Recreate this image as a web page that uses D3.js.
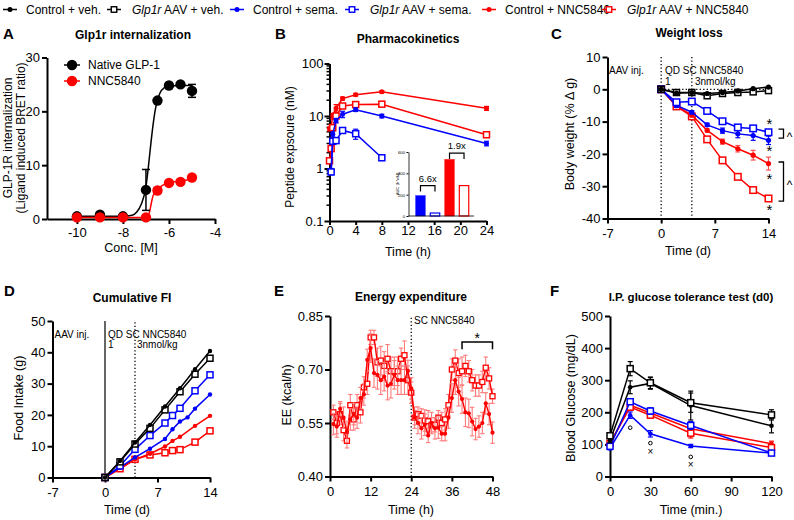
<!DOCTYPE html>
<html><head><meta charset="utf-8">
<script src="https://cdn.jsdelivr.net/npm/d3@7"></script>
<style>body{margin:0;background:#fff}svg{display:block}</style>
</head><body><svg id="c" width="794" height="520"></svg>
<script>
// ---------------- DATA ----------------
const seriesKeys = ["ctrlVeh","aavVeh","ctrlSema","aavSema","ctrlNNC","aavNNC"];
const legendPre = ["Control + veh.","Glp1r","Control + sema.","Glp1r","Control + NNC5840","Glp1r"];
const legendPost = [""," AAV + veh.",""," AAV + sema.",""," AAV + NNC5840"];

// A: internalization
const aConc = [-10,-9,-8,-7,-6.5,-6,-5.5,-5];
const aNative = [0.5,0.8,0.5,5.4,22,24.8,25,23.8];
const aNativeErr = [0.2,0.2,0.2,3.8,0.3,0.3,0.3,1.2];
const aNNC = [0.3,0.3,0.3,0.3,5.3,6.7,6.9,7.7];
const aNNCErr = [0.1,0.1,0.1,0.1,0.5,0.4,0.4,0.5];
const aNativeFitX = [-10,-8,-7.6,-7.4,-7.2,-7.0,-6.9,-6.8,-6.7,-6.6,-6.5,-6.4,-6.2,-6.0,-5.5,-5];
const aNativeFitY = [0.5,0.5,0.7,1.3,2.8,6.0,9.5,13.5,17.2,20.2,22,23.3,24.4,24.7,24.8,24.8];
const aNNCFitX = [-10,-7.2,-7.0,-6.9,-6.85,-6.8,-6.75,-6.7,-6.6,-6.5,-6.3,-6.0,-5.5,-5];
const aNNCFitY = [0.3,0.3,0.35,0.6,1.2,2.2,3.3,4.2,5.0,5.5,6.2,6.7,7.1,7.4];
const aLegend = ["Native  GLP-1","NNC5840"];

// B: pharmacokinetics
const bTime = [0,0.25,0.5,1,2,4,8,24];
const bCtrlSema = [null,0.9,4.5,8.2,10.8,13.2,10,3.0];
const bCtrlSemaErr = [0,0.1,0.5,0.8,1.5,1.0,0.8,0.3];
const bAavSema = [null,0.86,3.3,3.4,5.3,4.6,1.6,null];
const bAavSemaErr = [0,0.1,0.3,0.4,0.5,1.0,0.15,0];
const bCtrlNNC = [5.7,6.2,10,14,21.5,25.5,29,14];
const bCtrlNNCErr = [0.5,0.6,1.2,2.5,1.5,1.5,1.5,1.2];
const bAavNNC = [1.4,2.4,6,10,15.5,16.5,16.8,4.4];
const bAavNNCErr = [0.1,0.3,0.8,2.5,1.5,1.0,1.2,0.5];
const bAucGroups = ["ctrlSema","aavSema","ctrlNNC","aavNNC"];
const bAuc = [190,28,530,285];
const bAucTicks = [0,200,400,600];
const bFold = ["6.6x","1.9x"];

// C: weight loss
const cDays = [0,2,4,6,8,10,12,14];
const cCtrlVeh = [0,-1.2,-1,-1.3,-1,-0.5,0.2,0.7];
const cAavVeh = [0,-1,-1,-2,-1.3,-1,-0.8,-0.4];
const cCtrlSema = [0,-5,-7.1,-11,-12.8,-13.8,-14.3,-15.8];
const cAavSema = [0,-4,-3.8,-6.7,-9.9,-11.8,-12.1,-13.3];
const cCtrlNNC = [0,-5.1,-8,-12.7,-16.2,-18.4,-20.4,-23];
const cAavNNC = [0,-5.3,-8.4,-15.5,-22,-27.1,-31.2,-33.8];
const cCtrlSemaErr = [0,0.6,0.5,0.5,0.8,1.2,1.5,1.3];
const cCtrlNNCErr = [0,0.4,0.5,0.5,0.8,1.0,1.5,2.0];
const cSmallErr = [0,0.5,0.5,0.6,0.6,0.6,0.6,0.7];
const cStars = [-10.1,-18.5,-27.1,-36.8];
const cBrackets = [[-12.3,-15.1],[-22.5,-34.6]];

// D: cumulative food intake
const dDaysVeh = [0,2,4,6,8,10,12,14];
const dCtrlVeh = [0,5.3,11.2,16.8,22.7,28.5,34.6,40.4];
const dAavVeh = [0,5,10.7,15.7,21.6,27.4,33,38.1];
const dDaysSema = [0,2,4,6,8,9,10,11,12,14];
const dCtrlSema = [0,3.2,6.4,9.2,12.3,15.4,17.9,19.2,22.0,26.5];
const dDaysAav = [0,2,4,6,8,9,10,12,14];
const dAavSema = [0,3.7,9,13.4,17.4,19.8,22.1,27.7,32.8];
const dCtrlNNC = [0,3,5.8,7.6,9.9,11.7,13,16.5,19.7];
const dAavNNC = [0,2.8,5.8,7.2,7.9,8.6,8.9,11.3,14.9];

// E: energy expenditure
const eHours = [1,2,3,4,5,6,7,8,9,10,11,12,13,14,15,16,17,18,19,20,21,22,23,24,25,26,27,28,29,30,31,32,33,34,35,36,37,38,39,40,41,42,43,44,45,46,47,48];
const eAavNNC = [0.58,0.55,0.575,0.53,0.50,0.60,0.56,0.60,0.58,0.65,0.66,0.79,0.79,0.72,0.725,0.71,0.73,0.695,0.695,0.695,0.73,0.74,0.67,0.635,0.565,0.575,0.57,0.557,0.555,0.545,0.545,0.565,0.55,0.56,0.60,0.70,0.725,0.69,0.695,0.71,0.695,0.67,0.655,0.655,0.665,0.705,0.675,0.625];
const eAavNNCErr = [0.02,0.03,0.03,0.03,0.02,0.03,0.03,0.03,0.03,0.03,0.03,0.02,0.02,0.04,0.04,0.04,0.04,0.04,0.04,0.04,0.03,0.04,0.04,0.03,0.02,0.02,0.02,0.03,0.03,0.02,0.02,0.02,0.03,0.03,0.03,0.03,0.03,0.04,0.04,0.03,0.03,0.03,0.03,0.03,0.03,0.03,0.03,0.02];
const eCtrlNNC = [0.547,0.54,0.59,0.565,0.525,0.56,0.575,0.565,0.62,0.63,0.727,0.76,0.69,0.685,0.67,0.68,0.655,0.66,0.685,0.67,0.67,0.67,0.696,0.647,0.565,0.55,0.535,0.545,0.515,0.55,0.535,0.537,0.52,0.52,0.565,0.62,0.67,0.638,0.617,0.58,0.577,0.554,0.533,0.54,0.55,0.605,0.575,0.523];
const eCtrlNNCErr = [0.03,0.03,0.02,0.03,0.03,0.03,0.03,0.03,0.03,0.03,0.03,0.04,0.04,0.04,0.04,0.04,0.04,0.04,0.04,0.04,0.04,0.04,0.03,0.03,0.03,0.03,0.03,0.03,0.02,0.03,0.03,0.03,0.02,0.02,0.03,0.04,0.04,0.04,0.04,0.04,0.04,0.04,0.03,0.03,0.03,0.03,0.03,0.03];

// F: IPGTT
const fTime = [0,15,30,60,120];
const fCtrlVeh = [113,278,290,221,158];
const fCtrlVehErr = [8,20,18,45,22];
const fAavVeh = [127,336,292,230,192];
const fAavVehErr = [8,22,18,30,16];
const fCtrlSema = [88,191,133,95,73];
const fCtrlSemaErr = [5,10,10,5,5];
const fAavSema = [94,233,204,159,73];
const fAavSemaErr = [5,8,10,12,5];
const fCtrlNNC = [102,222,198,149,102];
const fCtrlNNCErr = [5,10,10,10,8];
const fAavNNC = [103,216,191,135,90];
const fAavNNCErr = [5,10,10,15,8];
const fMarksO = [[15,152],[30,104],[60,61]];
const fMarksX = [[30,78],[60,36]];

// ---------------- STYLE / HELPERS ----------------
const FONT = '"Liberation Sans", Arial, Helvetica, sans-serif';
const RED = "#ff0000", BLUE = "#0000ff", BLK = "#000000";
const TICK_FS = 13, LABEL_FS = 12.5, NOTE_FS = 10;
const style = {
  ctrlVeh:{c:BLK,open:false}, aavVeh:{c:BLK,open:true},
  ctrlSema:{c:BLUE,open:false}, aavSema:{c:BLUE,open:true},
  ctrlNNC:{c:RED,open:false}, aavNNC:{c:RED,open:true}
};
const svg = d3.select("#c").attr("font-family", FONT);

function txt(g, x, y, s, o={}) {
  const t = g.append("text").attr("x", x).attr("y", y).text(s)
    .attr("font-size", o.size || 12).attr("fill", o.fill || "#000")
    .attr("text-anchor", o.anchor || "start");
  if (o.bold) t.attr("font-weight", "bold");
  if (o.rot) t.attr("transform", `rotate(-90,${x},${y})`);
  return t;
}

function axes(x, y, o) {
  const fmt = o.fmt || (d => String(d));
  const xa = d3.axisBottom(x).tickValues(o.xt).tickFormat(o.xf || fmt)
    .tickSize(o.xts == null ? 5 : o.xts).tickSizeOuter(0).tickPadding(o.xpad == null ? 5 : o.xpad);
  const gx = svg.append("g").attr("transform", `translate(0,${y.range()[0]})`).call(xa);
  const ya = d3.axisLeft(y).tickValues(o.yt).tickFormat(o.yf || fmt)
    .tickSize(5).tickSizeOuter(0).tickPadding(o.ypad == null ? 2 : o.ypad);
  const gy = svg.append("g").attr("transform", `translate(${x.range()[0]},0)`).call(ya);
  [gx, gy].forEach(a => {
    a.select(".domain").attr("stroke-width", 2).attr("stroke", "#000");
    a.selectAll(".tick line").attr("stroke-width", 2).attr("stroke", "#000");
    a.selectAll("text").attr("font-size", TICK_FS).attr("font-family", FONT).attr("fill", "#000");
  });
  return {gx, gy};
}

function series(x, y, xs, ys, errs, key, o={}) {
  const st = style[key];
  const pts = xs.map((t, i) => ({x: t, y: ys[i], e: errs ? errs[i] : 0})).filter(p => p.y != null);
  const g = svg.append("g");
  const eg = g.append("g").attr("stroke", o.errColor || st.c).attr("stroke-width", o.ew || 1.2);
  const cap = o.cap == null ? 2.5 : o.cap;
  pts.forEach(p => {
    if (!p.e) return;
    const cx = x(p.x), y1 = y(p.y - p.e), y2 = y(p.y + p.e);
    eg.append("line").attr("x1", cx).attr("x2", cx).attr("y1", y1).attr("y2", y2);
    eg.append("line").attr("x1", cx - cap).attr("x2", cx + cap).attr("y1", y1).attr("y2", y1);
    eg.append("line").attr("x1", cx - cap).attr("x2", cx + cap).attr("y1", y2).attr("y2", y2);
  });
  if (!o.noLine) {
    g.append("path").datum(pts)
      .attr("d", d3.line().x(p => x(p.x)).y(p => y(p.y)))
      .attr("fill", "none").attr("stroke", st.c).attr("stroke-width", o.lw || 1.5);
  }
  pts.forEach(p => marker(g, x(p.x), y(p.y), st, o));
}

function marker(g, cx, cy, st, o) {
  if (st.open) {
    const s = o.sq || 6;
    g.append("rect").attr("x", cx - s/2).attr("y", cy - s/2).attr("width", s).attr("height", s)
      .attr("fill", "#fff").attr("stroke", st.c).attr("stroke-width", o.sw || 1.5);
  } else {
    g.append("circle").attr("cx", cx).attr("cy", cy).attr("r", o.r || 2.5).attr("fill", st.c);
  }
}

function dotted(x1, y1, x2, y2, color) {
  svg.append("line").attr("x1", x1).attr("y1", y1).attr("x2", x2).attr("y2", y2)
    .attr("stroke", color || "#000").attr("stroke-width", 1.3).attr("stroke-dasharray", "1.3,2.2");
}

// ---------------- TOP LEGEND ----------------
const legX = [10, 114, 237, 352, 489, 609];
seriesKeys.forEach((k, i) => {
  const g = svg.append("g");
  const cx = legX[i];
  g.append("line").attr("x1", cx - 7).attr("x2", cx + 7).attr("y1", 9.5).attr("y2", 9.5)
    .attr("stroke", style[k].c).attr("stroke-width", 1.5);
  marker(g, cx, 9.5, style[k], {r: 2.5, sq: 5.5, sw: 1.4});
  const t = g.append("text").attr("x", cx + (i % 2 ? 18 : 16)).attr("y", 14).attr("font-size", 12);
  if (i % 2) {
    t.append("tspan").attr("font-style", "italic").text(legendPre[i]);
    t.append("tspan").text(legendPost[i]);
  } else t.text(legendPre[i]);
});

// ---------------- PANEL A ----------------
{
  const x = d3.scaleLinear().domain([-11.3, -4]).range([47, 215]);
  const y = d3.scaleLinear().domain([0, 30]).range([219, 57.5]);
  axes(x, y, {xt: [-10, -8, -6, -4], yt: [0, 10, 20, 30], xpad: 4});
  const line = d3.line().x(d => x(d[0])).y(d => y(d[1])).curve(d3.curveMonotoneX);
  svg.append("path").datum(aNativeFitX.map((v, i) => [v, aNativeFitY[i]])).attr("d", line)
    .attr("fill", "none").attr("stroke", BLK).attr("stroke-width", 1.5);
  svg.append("path").datum(aNNCFitX.map((v, i) => [v, aNNCFitY[i]])).attr("d", line)
    .attr("fill", "none").attr("stroke", RED).attr("stroke-width", 1.5);
  series(x, y, aConc, aNative, aNativeErr, "ctrlVeh", {noLine: true, r: 5.2, cap: 4, ew: 1.5});
  series(x, y, aConc, aNNC, aNNCErr, "ctrlNNC", {noLine: true, r: 5.2, cap: 4, ew: 1.5});
  [[BLK, 65, aLegend[0]], [RED, 81, aLegend[1]]].forEach(([c, yy, s]) => {
    svg.append("line").attr("x1", 64).attr("x2", 80).attr("y1", yy).attr("y2", yy).attr("stroke", c).attr("stroke-width", 1.5);
    svg.append("circle").attr("cx", 72).attr("cy", yy).attr("r", 5.2).attr("fill", c);
    txt(svg, 88, yy + 4, s);
  });
  txt(svg, 3, 39, "A", {size: 15, bold: true});
  txt(svg, 133, 39, "Glp1r internalization", {bold: true, anchor: "middle"});
  txt(svg, 131, 252, "Conc. [M]", {anchor: "middle", size: LABEL_FS});
  txt(svg, 11.5, 138, "GLP-1R internalization", {anchor: "middle", rot: true});
  txt(svg, 24.5, 138, "(Ligand induced BRET ratio)", {anchor: "middle", rot: true});
}

// ---------------- PANEL B ----------------
{
  const x = d3.scaleLinear().domain([0, 24]).range([329.5, 486.5]);
  const y = d3.scaleLog().domain([0.1, 100]).range([221, 63.5]);
  axes(x, y, {xt: [0, 4, 8, 12, 16, 20, 24], yt: [0.1, 1, 10, 100], yf: d => String(d), xts: 4, xpad: 1, ypad: 1});
  const minor = [];
  [0.1, 1, 10].forEach(dec => { for (let m = 2; m <= 9; m++) minor.push(dec * m); });
  svg.append("g").selectAll("line").data(minor).join("line")
    .attr("x1", x.range()[0]).attr("x2", x.range()[0] - 3).attr("y1", d => y(d)).attr("y2", d => y(d))
    .attr("stroke", "#000").attr("stroke-width", 1.5);
  series(x, y, bTime, bCtrlNNC, bCtrlNNCErr, "ctrlNNC", {r: 2.5});
  series(x, y, bTime, bAavNNC, bAavNNCErr, "aavNNC", {sq: 6});
  series(x, y, bTime, bCtrlSema, bCtrlSemaErr, "ctrlSema", {r: 2.5});
  series(x, y, bTime, bAavSema, bAavSemaErr, "aavSema", {sq: 6});
  // inset bar chart
  const bx = d3.scaleBand().domain(bAucGroups).range([408.5, 476]).paddingInner(0.35).paddingOuter(0.5);
  const by = d3.scaleLinear().domain([0, 600]).range([216, 152]);
  const ig = svg.append("g");
  bAucGroups.forEach((k, i) => {
    const st = style[k];
    ig.append("rect").attr("x", bx(k)).attr("y", by(bAuc[i])).attr("width", bx.bandwidth())
      .attr("height", by(0) - by(bAuc[i]))
      .attr("fill", st.open ? "#fff" : st.c).attr("stroke", st.c).attr("stroke-width", st.open ? 1.2 : 0.5);
  });
  const iya = d3.axisLeft(by).tickValues(bAucTicks).tickSize(2).tickSizeOuter(0).tickPadding(1.5);
  const giy = ig.append("g").attr("transform", "translate(408.5,0)").call(iya);
  giy.select(".domain").attr("stroke-width", 0.8);
  giy.selectAll("text").attr("font-size", 4.2).attr("font-family", FONT);
  ig.append("line").attr("x1", 408.5).attr("x2", 474).attr("y1", by(0)).attr("y2", by(0)).attr("stroke", "#000").attr("stroke-width", 0.8);
  txt(ig, 398.5, 184, "AUC (h*nM)", {size: 4.2, anchor: "middle", rot: true});
  const br = (a, b, yy, label) => {
    const x1 = bx(a) + bx.bandwidth() / 2, x2 = bx(b) + bx.bandwidth() / 2;
    ig.append("path").attr("d", `M${x1},${yy + 6}V${yy}H${x2}V${yy + 6}`).attr("fill", "none").attr("stroke", "#000").attr("stroke-width", 1.2);
    txt(ig, (x1 + x2) / 2, yy - 4, label, {size: 9.5, anchor: "middle"});
  };
  br("ctrlSema", "aavSema", by(285), bFold[0]);
  br("ctrlNNC", "aavNNC", by(590), bFold[1]);
  txt(svg, 275, 39, "B", {size: 15, bold: true});
  txt(svg, 408, 43, "Pharmacokinetics", {bold: true, anchor: "middle"});
  txt(svg, 408, 256, "Time (h)", {anchor: "middle", size: LABEL_FS});
  txt(svg, 294, 147, "Peptide expsoure (nM)", {anchor: "middle", rot: true});
}

// ---------------- PANEL C ----------------
{
  const x = d3.scaleLinear().domain([-7, 14]).range([607.5, 768.5]);
  const y = d3.scaleLinear().domain([-40, 10]).range([218.5, 57]);
  axes(x, y, {xt: [-7, 0, 7, 14], yt: [-40, -30, -20, -10, 0, 10]});
  dotted(x(0), y(10), x(0), y(-40));
  dotted(x(4), y(10), x(4), y(-40));
  dotted(x(0), y(0), x(14), y(0));
  txt(svg, 609, 74, "AAV inj.", {size: NOTE_FS});
  txt(svg, 665, 74, "QD SC NNC5840", {size: NOTE_FS});
  txt(svg, 665, 84.5, "1", {size: NOTE_FS});
  txt(svg, 695, 84.5, "3nmol/kg", {size: NOTE_FS});
  series(x, y, cDays, cAavNNC, cSmallErr, "aavNNC", {sq: 6.5});
  series(x, y, cDays, cCtrlNNC, cCtrlNNCErr, "ctrlNNC", {r: 2.6, errColor: "#ff5050"});
  series(x, y, cDays, cCtrlSema, cCtrlSemaErr, "ctrlSema", {r: 2.6});
  series(x, y, cDays, cAavSema, cSmallErr, "aavSema", {sq: 6.5});
  series(x, y, cDays, cAavVeh, null, "aavVeh", {sq: 6});
  series(x, y, cDays, cCtrlVeh, null, "ctrlVeh", {r: 2.6});
  cStars.forEach(v => txt(svg, x(14) + 1, y(v) + 7, "*", {size: 15, anchor: "middle"}));
  cBrackets.forEach(([a, b]) => {
    svg.append("path").attr("d", `M${x(14) + 10},${y(a)}H${x(14) + 15}V${y(b)}H${x(14) + 10}`)
      .attr("fill", "none").attr("stroke", "#000").attr("stroke-width", 1.3);
    txt(svg, x(14) + 21, y((a + b) / 2) + 7, "^", {size: 12, anchor: "middle"});
  });
  txt(svg, 551, 39, "C", {size: 15, bold: true});
  txt(svg, 689, 37, "Weight loss", {bold: true, anchor: "middle"});
  txt(svg, 688, 255, "Time  (d)", {anchor: "middle", size: LABEL_FS});
  txt(svg, 574, 134, "Body weight (% Δ g)", {anchor: "middle", rot: true, size: LABEL_FS});
}

// ---------------- PANEL D ----------------
{
  const x = d3.scaleLinear().domain([-7, 14]).range([52.5, 210]);
  const y = d3.scaleLinear().domain([0, 50]).range([477.5, 321]);
  axes(x, y, {xt: [-7, 0, 7, 14], yt: [0, 10, 20, 30, 40, 50]});
  svg.append("line").attr("x1", x(0)).attr("x2", x(0)).attr("y1", y(0)).attr("y2", y(50)).attr("stroke", "#333").attr("stroke-width", 1.5);
  dotted(x(4), y(0), x(4), y(50));
  txt(svg, 54.5, 337.5, "AAV inj.", {size: NOTE_FS});
  txt(svg, 108, 337.5, "QD SC NNC5840", {size: NOTE_FS});
  txt(svg, 108, 347.5, "1", {size: NOTE_FS});
  txt(svg, 137, 347.5, "3nmol/kg", {size: NOTE_FS});
  series(x, y, dDaysAav, dAavNNC, null, "aavNNC", {sq: 6});
  series(x, y, dDaysAav, dCtrlNNC, null, "ctrlNNC", {r: 2.2});
  series(x, y, dDaysSema, dCtrlSema, null, "ctrlSema", {r: 2.2});
  series(x, y, dDaysAav, dAavSema, null, "aavSema", {sq: 6});
  series(x, y, dDaysVeh, dAavVeh, null, "aavVeh", {sq: 6});
  series(x, y, dDaysVeh, dCtrlVeh, null, "ctrlVeh", {r: 2.2});
  txt(svg, 4, 296, "D", {size: 15, bold: true});
  txt(svg, 132, 301.5, "Cumulative FI", {bold: true, anchor: "middle"});
  txt(svg, 127, 514, "Time (d)", {anchor: "middle", size: LABEL_FS});
  txt(svg, 23, 398, "Food Intake (g)", {anchor: "middle", rot: true, size: LABEL_FS});
}

// ---------------- PANEL E ----------------
{
  const x = d3.scaleLinear().domain([0, 48]).range([330, 492.5]);
  const y = d3.scaleLinear().domain([0.40, 0.85]).range([476.5, 316]);
  axes(x, y, {xt: [0, 12, 24, 36, 48], yt: [0.40, 0.55, 0.70, 0.85], yf: d3.format(".2f")});
  dotted(x(24), y(0.40), x(24), y(0.85));
  txt(svg, 414, 323.5, "SC NNC5840", {size: NOTE_FS});
  series(x, y, eHours, eAavNNC, eAavNNCErr, "aavNNC", {sq: 5, sw: 1.3, errColor: "#ff7b7b", ew: 1.1, cap: 2.2, lw: 1.4});
  series(x, y, eHours, eCtrlNNC, eCtrlNNCErr, "ctrlNNC", {r: 2.1, errColor: "#ff7b7b", ew: 1.1, cap: 2.2, lw: 1.4});
  svg.append("path").attr("d", `M${x(39)},${y(0.757)}V${y(0.777)}H${x(48)}V${y(0.757)}`)
    .attr("fill", "none").attr("stroke", "#000").attr("stroke-width", 1.5);
  txt(svg, x(43.5), y(0.777) + 0.5, "*", {size: 14, anchor: "middle"});
  txt(svg, 274, 296, "E", {size: 15, bold: true});
  txt(svg, 411, 301, "Energy expenditure", {bold: true, anchor: "middle"});
  txt(svg, 411, 514, "Time (h)", {anchor: "middle", size: LABEL_FS});
  txt(svg, 291, 395, "EE (kcal/h)", {anchor: "middle", rot: true, size: LABEL_FS});
}

// ---------------- PANEL F ----------------
{
  const x = d3.scaleLinear().domain([0, 120]).range([610, 771.5]);
  const y = d3.scaleLinear().domain([0, 500]).range([476.5, 316]);
  axes(x, y, {xt: [0, 30, 60, 90, 120], yt: [0, 100, 200, 300, 400, 500]});
  series(x, y, fTime, fCtrlNNC, fCtrlNNCErr, "ctrlNNC", {r: 2.3});
  series(x, y, fTime, fAavNNC, fAavNNCErr, "aavNNC", {sq: 6});
  series(x, y, fTime, fCtrlSema, fCtrlSemaErr, "ctrlSema", {r: 2.3});
  series(x, y, fTime, fAavSema, fAavSemaErr, "aavSema", {sq: 6});
  series(x, y, fTime, fCtrlVeh, fCtrlVehErr, "ctrlVeh", {r: 2.3});
  series(x, y, fTime, fAavVeh, fAavVehErr, "aavVeh", {sq: 6});
  fMarksO.forEach(([t, v]) => svg.append("circle").attr("cx", x(t)).attr("cy", y(v)).attr("r", 1.8)
    .attr("fill", "none").attr("stroke", "#000").attr("stroke-width", 1));
  fMarksX.forEach(([t, v]) => txt(svg, x(t), y(v) + 3.5, "×", {size: 10, anchor: "middle"}));
  txt(svg, 550, 296, "F", {size: 15, bold: true});
  txt(svg, 691, 301, "I.P. glucose tolerance test (d0)", {bold: true, anchor: "middle", size: 11.5});
  txt(svg, 691, 514, "Time  (min.)", {anchor: "middle", size: LABEL_FS});
  txt(svg, 575, 398, "Blood  Glucose (mg/dL)", {anchor: "middle", rot: true, size: LABEL_FS});
}
</script></body></html>
